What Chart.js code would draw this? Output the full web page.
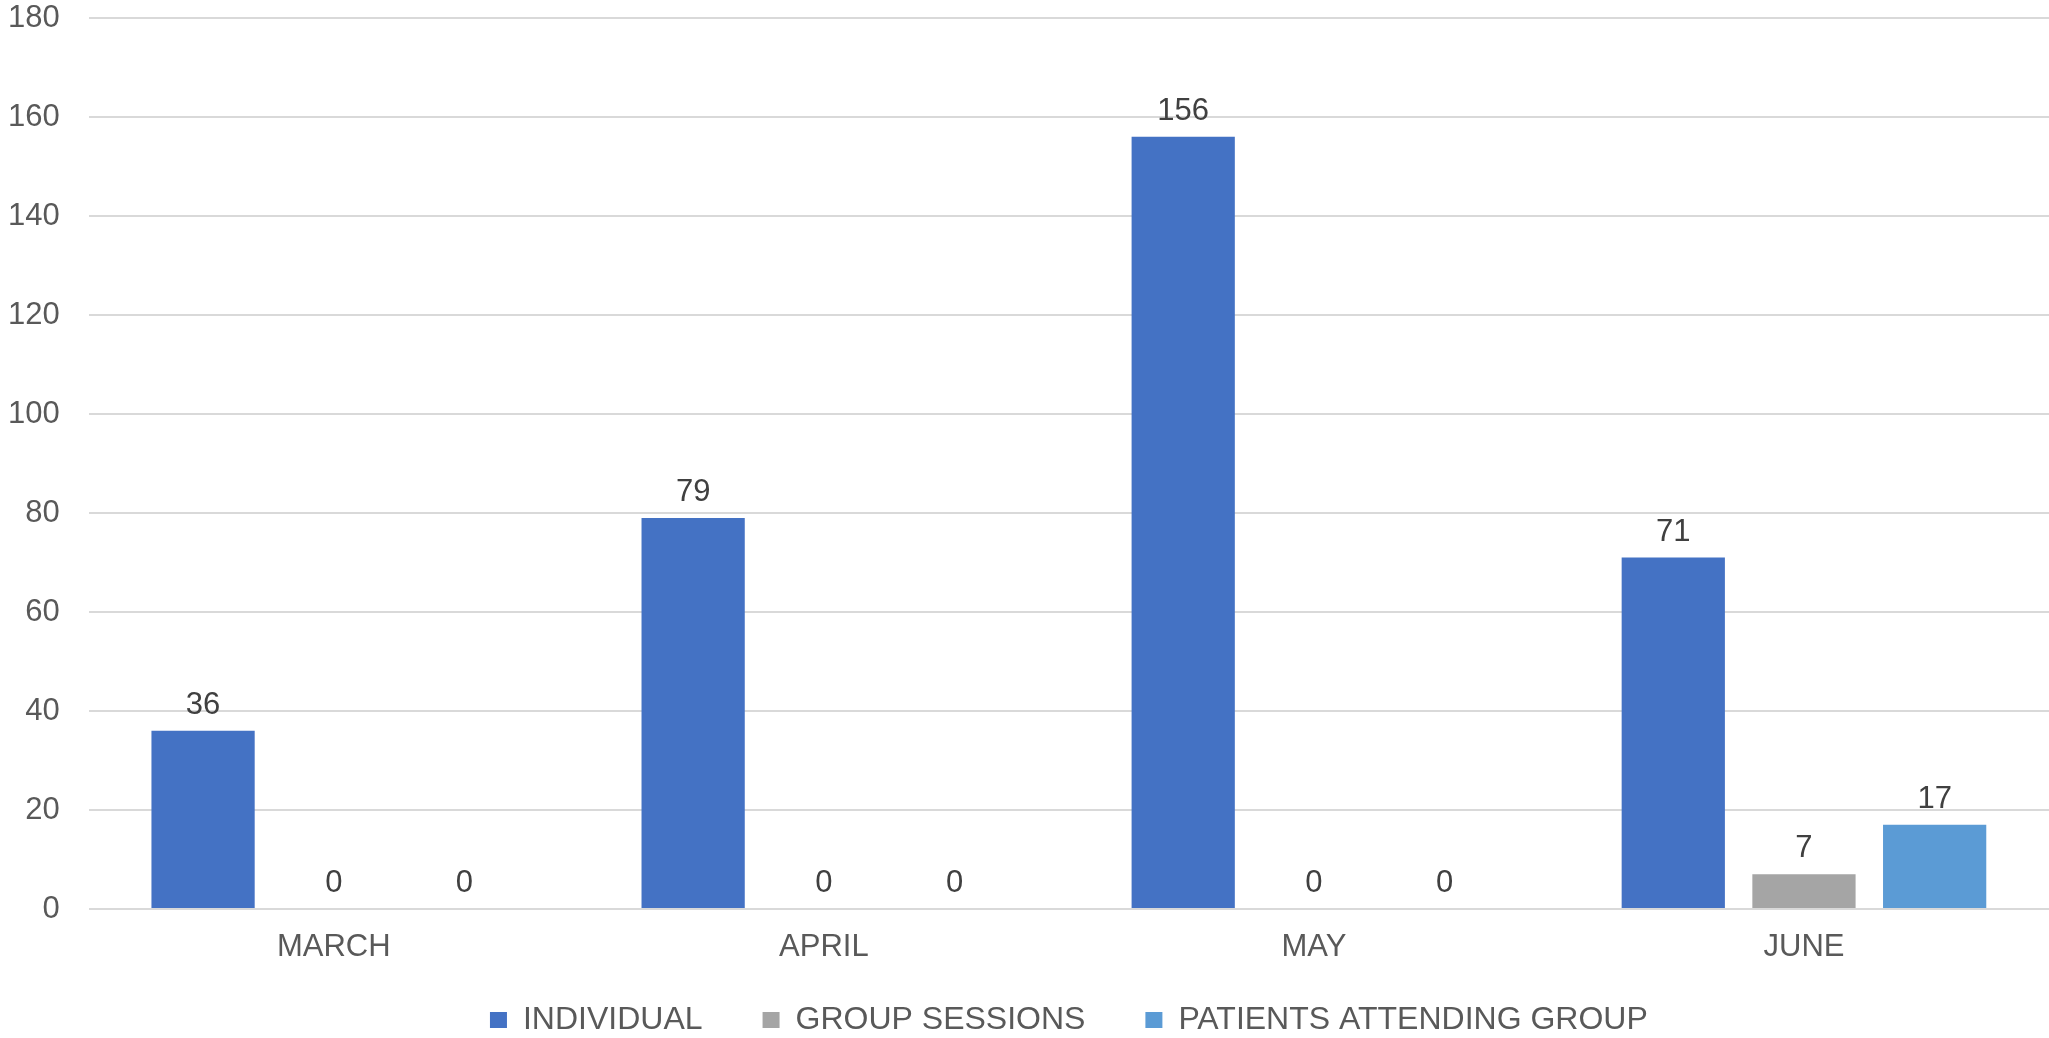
<!DOCTYPE html>
<html>
<head>
<meta charset="utf-8">
<script src="https://cdn.jsdelivr.net/npm/chart.js@4"></script>
<style>
  html, body { margin: 0; padding: 0; background: #fff; }
  #wrap { width: 2049px; height: 1038px; position: relative; }
</style>
</head>
<body>
<div id="wrap"><canvas id="sessionsChart"></canvas></div>
<script>
const months = ['MARCH', 'APRIL', 'MAY', 'JUNE'];
const individual = [36, 79, 156, 71];
const groupSessions = [0, 0, 0, 7];
const patientsAttending = [0, 0, 0, 17];
const yTicks = [0, 20, 40, 60, 80, 100, 120, 140, 160, 180];

const FONT = '"Liberation Sans", Arial, sans-serif';

// draws the value above every bar
const barValues = {
  id: 'barValues',
  afterDatasetsDraw(chart) {
    const ctx = chart.ctx;
    ctx.save();
    ctx.font = '31px ' + FONT;
    ctx.fillStyle = '#404040';
    ctx.textAlign = 'center';
    ctx.textBaseline = 'alphabetic';
    chart.data.datasets.forEach((ds, i) => {
      chart.getDatasetMeta(i).data.forEach((bar, j) => {
        ctx.fillText(ds.data[j], bar.x, bar.y - 17);
      });
    });
    ctx.restore();
  }
};

// legend centred under the plot area; x labels allowed to hang below their (short) box
const layoutTweaks = {
  id: 'layoutTweaks',
  afterLayout(chart) {
    if (chart.legend) chart.legend.left = chart.chartArea.left;
    const x = chart.scales.x;
    x.bottom = x.top + 70;
  }
};

const ctx = document.getElementById('sessionsChart').getContext('2d');

const sessionsChart = new Chart(ctx, {
  type: 'bar',
  data: {
    labels: months,
    datasets: [{
      label: 'INDIVIDUAL',
      data: individual,
      backgroundColor: '#4472c4'
    }, {
      label: 'GROUP SESSIONS',
      data: groupSessions,
      backgroundColor: '#a5a5a5'
    }, {
      label: 'PATIENTS ATTENDING GROUP',
      data: patientsAttending,
      backgroundColor: '#5b9bd5'
    }]
  },
  plugins: [barValues, layoutTweaks],
  options: {
    responsive: true,
    maintainAspectRatio: false,
    animation: false,
    categoryPercentage: 0.8,
    barPercentage: 0.79,
    layout: {
      padding: { left: -21, right: 0, top: 18, bottom: -8 }
    },
    plugins: {
      legend: {
        position: 'bottom',
        labels: {
          boxWidth: 17,
          boxHeight: 16,
          padding: 60,
          color: '#595959',
          font: { family: FONT, size: 32 }
        }
      },
      tooltip: { enabled: false }
    },
    scales: {
      x: {
        grid: { display: false },
        border: { display: false },
        afterFit(axis) {
          axis.height = 35;
        },
        ticks: {
          color: '#595959',
          padding: 12,
          font: { family: FONT, size: 31 }
        }
      },
      y: {
        min: 0,
        max: 180,
        afterBuildTicks(axis) {
          axis.ticks = yTicks.map(v => ({ value: v }));
        },
        afterFit(axis) {
          axis.paddingTop = 0;
        },
        border: { display: false },
        grid: { color: '#d9d9d9', lineWidth: 2, drawTicks: false },
        ticks: {
          color: '#595959',
          padding: 29,
          font: { family: FONT, size: 31 }
        }
      }
    }
  }
});
</script>
</body>
</html>
